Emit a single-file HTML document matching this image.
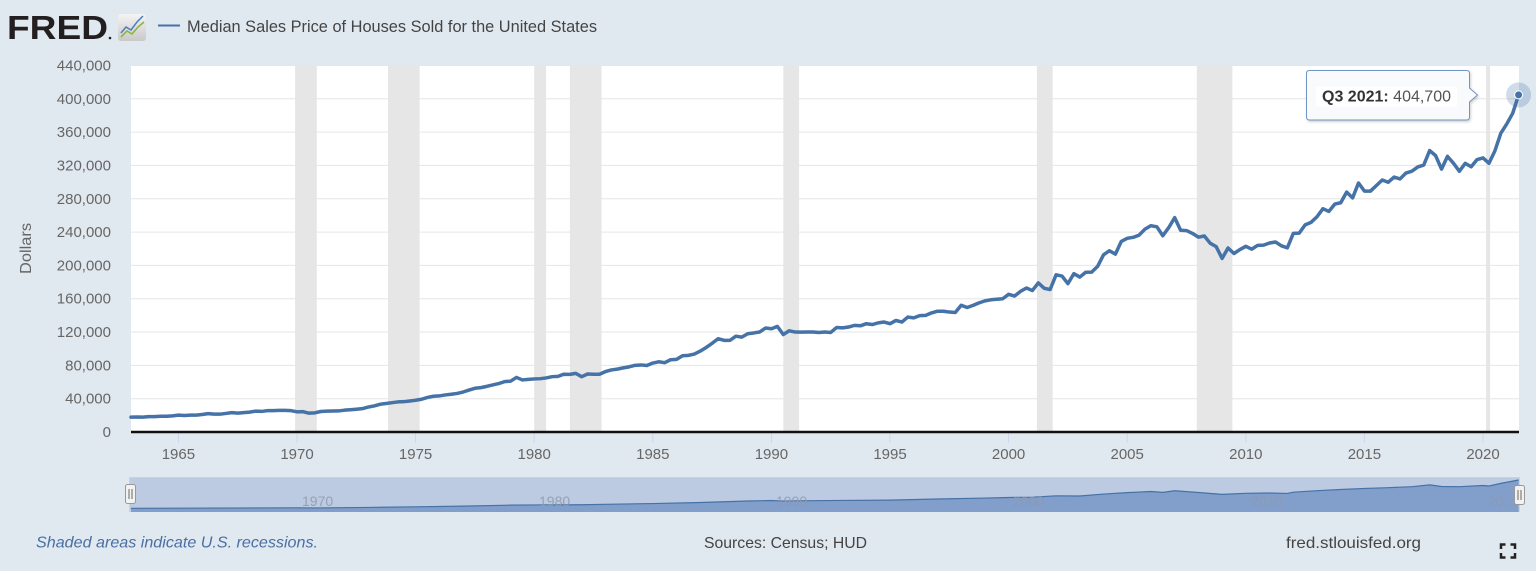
<!DOCTYPE html>
<html><head><meta charset="utf-8">
<style>
html,body{margin:0;padding:0;background:#e1e9f0;}
svg{display:block;}
text{font-family:"Liberation Sans",Arial,sans-serif;}
</style></head>
<body>
<svg width="1536" height="571" viewBox="0 0 1536 571" xmlns="http://www.w3.org/2000/svg">
<defs>
<linearGradient id="ig" x1="0" y1="0" x2="0" y2="1">
<stop offset="0" stop-color="#f4f4f4"/><stop offset="1" stop-color="#c9c9c9"/>
</linearGradient>
<filter id="sh" x="-10%" y="-10%" width="130%" height="140%">
<feDropShadow dx="1" dy="1.5" stdDeviation="1.2" flood-color="#000" flood-opacity="0.18"/>
</filter>
</defs>
<rect x="0" y="0" width="1536" height="571" fill="#e1e9f0"/>

<!-- Header -->
<text x="7" y="39" font-size="33" font-weight="bold" fill="#231f20" textLength="101" lengthAdjust="spacingAndGlyphs">FRED</text>
<circle cx="110" cy="38" r="1.3" fill="#231f20"/>
<rect x="118" y="14" width="28" height="27" rx="3" fill="url(#ig)"/>
<polyline points="121,33 126,27 131,30 137,22 143,16" fill="none" stroke="#4a7fbf" stroke-width="1.5"/>
<polyline points="121,37 127,31 132,34 138,27 144,22" fill="none" stroke="#8bb339" stroke-width="1.5"/>
<line x1="158" y1="25.5" x2="180" y2="25.5" stroke="#4572a7" stroke-width="2"/>
<text x="187" y="32" font-size="16.5" fill="#444" textLength="410" lengthAdjust="spacingAndGlyphs">Median Sales Price of Houses Sold for the United States</text>

<!-- Plot area -->
<rect x="131" y="65.5" width="1388" height="366.5" fill="#ffffff"/>
<!-- recessions -->
<g fill="#e6e6e6">
<rect x="295.1" y="65.5" width="21.7" height="366.5"/>
<rect x="388" y="65.5" width="31.6" height="366.5"/>
<rect x="534.2" y="65.5" width="11.9" height="366.5"/>
<rect x="569.9" y="65.5" width="31.6" height="366.5"/>
<rect x="783.3" y="65.5" width="15.8" height="366.5"/>
<rect x="1036.9" y="65.5" width="15.8" height="366.5"/>
<rect x="1196.8" y="65.5" width="35.6" height="366.5"/>
<rect x="1486.1" y="65.5" width="4" height="366.5"/>
</g>
<!-- grid -->
<g stroke="#e6e6e6" stroke-width="1">
<line x1="131" y1="65.5" x2="1519" y2="65.5"/>
<line x1="131" y1="98.8" x2="1519" y2="98.8"/>
<line x1="131" y1="132.1" x2="1519" y2="132.1"/>
<line x1="131" y1="165.4" x2="1519" y2="165.4"/>
<line x1="131" y1="198.8" x2="1519" y2="198.8"/>
<line x1="131" y1="232.1" x2="1519" y2="232.1"/>
<line x1="131" y1="265.4" x2="1519" y2="265.4"/>
<line x1="131" y1="298.7" x2="1519" y2="298.7"/>
<line x1="131" y1="332" x2="1519" y2="332"/>
<line x1="131" y1="365.4" x2="1519" y2="365.4"/>
<line x1="131" y1="398.7" x2="1519" y2="398.7"/>
</g>

<!-- y labels -->
<g font-size="15" fill="#666" text-anchor="end">
<text x="111" y="70.5">440,000</text>
<text x="111" y="103.8">400,000</text>
<text x="111" y="137.1">360,000</text>
<text x="111" y="170.4">320,000</text>
<text x="111" y="203.8">280,000</text>
<text x="111" y="237.1">240,000</text>
<text x="111" y="270.4">200,000</text>
<text x="111" y="303.7">160,000</text>
<text x="111" y="337">120,000</text>
<text x="111" y="370.4">80,000</text>
<text x="111" y="403.7">40,000</text>
<text x="111" y="437">0</text>
</g>
<text transform="translate(31,248.5) rotate(-90)" font-size="15.5" fill="#666" text-anchor="middle" textLength="51" lengthAdjust="spacingAndGlyphs">Dollars</text>

<!-- x ticks -->
<g stroke="#ccd6eb" stroke-width="1">
<line x1="178.4" y1="433" x2="178.4" y2="443"/>
<line x1="297" y1="433" x2="297" y2="443"/>
<line x1="415.6" y1="433" x2="415.6" y2="443"/>
<line x1="534.2" y1="433" x2="534.2" y2="443"/>
<line x1="652.8" y1="433" x2="652.8" y2="443"/>
<line x1="771.4" y1="433" x2="771.4" y2="443"/>
<line x1="890" y1="433" x2="890" y2="443"/>
<line x1="1008.6" y1="433" x2="1008.6" y2="443"/>
<line x1="1127.2" y1="433" x2="1127.2" y2="443"/>
<line x1="1245.8" y1="433" x2="1245.8" y2="443"/>
<line x1="1364.4" y1="433" x2="1364.4" y2="443"/>
<line x1="1483" y1="433" x2="1483" y2="443"/>
</g>
<g font-size="15" fill="#666" text-anchor="middle">
<text x="178.4" y="459">1965</text>
<text x="297" y="459">1970</text>
<text x="415.6" y="459">1975</text>
<text x="534.2" y="459">1980</text>
<text x="652.8" y="459">1985</text>
<text x="771.4" y="459">1990</text>
<text x="890" y="459">1995</text>
<text x="1008.6" y="459">2000</text>
<text x="1127.2" y="459">2005</text>
<text x="1245.8" y="459">2010</text>
<text x="1364.4" y="459">2015</text>
<text x="1483" y="459">2020</text>
</g>

<!-- series -->
<polyline transform="matrix(5.93 0 0 -0.833 131 432)" vector-effect="non-scaling-stroke" fill="none" stroke="#4572a7" stroke-width="3.5" stroke-linejoin="round" stroke-linecap="round"
points="0,17.8 1,18 2,17.9 3,18.5 4,18.5 5,18.9 6,18.9 7,19.4 8,20.2 9,19.8 10,20.2 11,20.3 12,21 13,22.1 14,21.5 15,21.4 16,22.3 17,23.3 18,22.6 19,23.3 20,23.9 21,25 22,24.7 23,25.6 24,25.7 25,26 26,25.9 27,25.6 28,24.2 29,24.4 30,22.6 31,23 32,24.6 33,25 34,25.2 35,25.3 36,26.2 37,26.7 38,27.3 39,28 40,29.9 41,31.3 42,33.3 43,34.2 44,35.2 45,36.1 46,36.4 47,37.2 48,38.1 49,39.3 50,41.5 51,42.9 52,43.3 53,44.5 54,45.3 55,46.3 56,48 57,50.3 58,52.5 59,53.3 60,54.8 61,56.5 62,58.1 63,60.5 64,61 65,65.5 66,62.5 67,63.2 68,63.7 69,64 70,64.9 71,66.4 72,66.8 73,69.4 74,69.2 75,70.4 76,66.4 77,69.6 78,69.3 79,69.3 80,72.5 81,74.5 82,75.5 83,77 84,78.2 85,80 86,80.5 87,79.8 88,82.8 89,84.3 90,83.2 91,86.8 92,87.2 93,91.5 94,92 95,93.6 96,97.1 97,101.5 98,106.5 99,112 100,110 101,110 102,115 103,113.9 104,118 105,118.9 106,120 107,124.8 108,123.9 109,126.8 110,117 111,121.5 112,120 113,119.9 114,120 115,120 116,119.5 117,120 118,119.5 119,125.5 120,125 121,126 122,128 123,127.5 124,130 125,129 126,131 127,132 128,130 129,133.9 130,132 131,138 132,137 133,139.7 134,140 135,143 136,145 137,145 138,144 139,143.5 140,152.2 141,149.5 142,152 143,155 144,157.4 145,158.7 146,159.4 147,160 148,165.3 149,163.2 150,168.8 151,172.9 152,169.8 153,179 154,172.5 155,171.1 156,188.7 157,187.2 158,178.1 159,190.1 160,186 161,191.8 162,191.9 163,198.8 164,212.7 165,217.6 166,213.5 167,228.8 168,232.5 169,233.7 170,236.4 171,243.6 172,247.7 173,246.3 174,235.6 175,245.4 176,257.4 177,242.2 178,241.8 179,238.4 180,233.9 181,235.3 182,226.5 183,222.5 184,208.4 185,220.9 186,214.3 187,219 188,222.9 189,219.5 190,224.1 191,224.3 192,226.9 193,228.1 194,223.5 195,221.1 196,238.4 197,238.7 198,248.7 199,251.7 200,258.4 201,268.1 202,264.8 203,273.6 204,275.2 205,288 206,281 207,298.9 208,289.2 209,289.1 210,295.8 211,302.5 212,299.8 213,306 214,303.8 215,310.9 216,313.1 217,318.2 218,320.5 219,337.9 220,331.8 221,315.6 222,330.9 223,322.8 224,313 225,322.5 226,318.4 227,327.1 228,329 229,322.6 230,337.5 231,358.7 232,369.8 233,382.6 234,404.7"/>

<!-- zero axis line -->
<line x1="131" y1="432" x2="1519" y2="432" stroke="#111" stroke-width="2.5"/>

<!-- hover point -->
<circle cx="1518.6" cy="94.9" r="12.5" fill="#4572a7" fill-opacity="0.25"/>
<circle cx="1518.6" cy="94.9" r="4" fill="#4572a7" stroke="#fff" stroke-width="1"/>

<!-- tooltip -->
<path d="M1309.5 70.5 H1466.5 Q1469.5 70.5 1469.5 73.5 V88 L1477.5 95 L1469.5 102 V117 Q1469.5 120 1466.5 120 H1309.5 Q1306.5 120 1306.5 117 V73.5 Q1306.5 70.5 1309.5 70.5 Z" fill="#f8fafc" stroke="#6f94c4" stroke-width="1" filter="url(#sh)"/>
<rect x="1316" y="86.5" width="141" height="20" fill="#ffffff"/>
<text x="1322" y="101.5" font-size="16" fill="#333"><tspan font-weight="bold">Q3 2021:</tspan><tspan fill="#555"> 404,700</tspan></text>

<!-- navigator -->
<rect x="129.5" y="477.5" width="1390" height="34" fill="#bccbe2" stroke="#c9d2de" stroke-width="1"/>
<polygon transform="matrix(5.93 0 0 -0.07315 131 509.6)" fill="#829ecb"
points="0,-32 0,17.8 28,24.2 31,23 40,29.9 48,38.1 56,48 64,61 68,63.7 76,66.4 80,72.5 88,82.8 96,97.1 104,118 108,123.9 110,117 112,120 120,125 128,130 136,145 144,157.4 148,165.3 152,169.8 156,188.7 160,186 164,212.7 168,232.5 172,247.7 174,235.6 176,257.4 180,233.9 184,208.4 188,222.9 192,226.9 195,221.1 196,238.4 200,258.4 204,275.2 208,289.2 212,299.8 216,313.1 219,337.9 221,315.6 224,313 228,329 229,322.6 231,358.7 234,404.7 234,-32"/>
<polyline transform="matrix(5.93 0 0 -0.07315 131 509.6)" vector-effect="non-scaling-stroke" fill="none" stroke="#4572a7" stroke-width="1.2"
points="0,17.8 28,24.2 31,23 40,29.9 48,38.1 56,48 64,61 68,63.7 76,66.4 80,72.5 88,82.8 96,97.1 104,118 108,123.9 110,117 112,120 120,125 128,130 136,145 144,157.4 148,165.3 152,169.8 156,188.7 160,186 164,212.7 168,232.5 172,247.7 174,235.6 176,257.4 180,233.9 184,208.4 188,222.9 192,226.9 195,221.1 196,238.4 200,258.4 204,275.2 208,289.2 212,299.8 216,313.1 219,337.9 221,315.6 224,313 228,329 229,322.6 231,358.7 234,404.7"/>
<g font-size="14" fill="#8e99ab" fill-opacity="0.85">
<text x="302" y="506">1970</text>
<text x="539" y="506">1980</text>
<text x="776" y="506">1990</text>
<text x="1013" y="506">2000</text>
<text x="1251" y="506">2010</text>
<text x="1488" y="506">20…</text>
</g>
<!-- handles -->
<g>
<rect x="125.5" y="484.5" width="10" height="19" rx="2" fill="#f2f2f2" stroke="#999" stroke-width="1"/>
<line x1="129" y1="489" x2="129" y2="499" stroke="#666"/>
<line x1="132" y1="489" x2="132" y2="499" stroke="#666"/>
<rect x="1514.5" y="485.5" width="10" height="19" rx="2" fill="#f2f2f2" stroke="#999" stroke-width="1"/>
<line x1="1518" y1="490" x2="1518" y2="500" stroke="#666"/>
<line x1="1521" y1="490" x2="1521" y2="500" stroke="#666"/>
</g>

<!-- footer -->
<text x="36" y="547.5" font-size="16" font-style="italic" fill="#4a6fa3" textLength="282" lengthAdjust="spacingAndGlyphs">Shaded areas indicate U.S. recessions.</text>
<text x="704" y="548" font-size="16" fill="#444" textLength="163" lengthAdjust="spacingAndGlyphs">Sources: Census; HUD</text>
<text x="1286" y="548" font-size="16" fill="#444" textLength="135" lengthAdjust="spacingAndGlyphs">fred.stlouisfed.org</text>

<!-- fullscreen icon -->
<g fill="none" stroke="#222" stroke-width="2.5">
<polyline points="1501,549 1501,544.5 1505.5,544.5"/>
<polyline points="1510.5,544.5 1515,544.5 1515,549"/>
<polyline points="1501,553 1501,557.5 1505.5,557.5"/>
<polyline points="1510.5,557.5 1515,557.5 1515,553"/>
</g>
</svg>
</body></html>
